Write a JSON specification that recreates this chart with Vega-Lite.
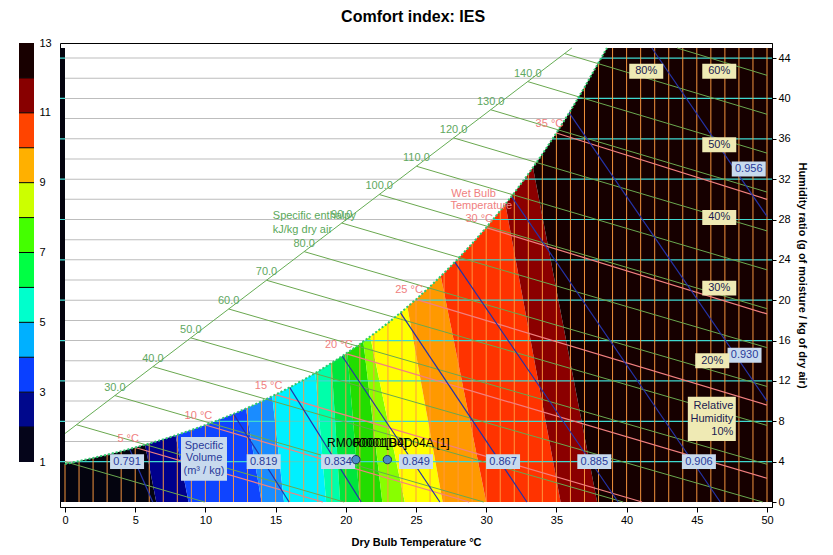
{
  "$schema": "https://vega.github.io/schema/vega-lite/v6.json",
  "background": "white",
  "padding": {"left": 18, "top": 9, "right": 4, "bottom": 2},
  "title": {"text": "Comfort index: IES", "font": "Liberation Sans", "fontSize": 16, "fontWeight": "bold", "color": "#000", "anchor": "middle", "offset": 12},
  "config": {
    "font": "Liberation Sans",
    "axis": {"labelFont": "Liberation Sans", "labelFontSize": 11, "labelColor": "#000", "titleFont": "Liberation Sans", "titleFontSize": 11, "titleFontWeight": "bold", "titleColor": "#000", "grid": false, "domainColor": "#000", "tickColor": "#000"},
    "view": {"stroke": "#000"}
  },
  "bounds": "flush",
  "spacing": 26,
  "resolve": {"scale": {"color": "independent"}},
  "datasets": {
    "legendbands": [
      {"lo": 1, "hi": 2, "c": "c01"}, {"lo": 2, "hi": 3, "c": "c02"}, {"lo": 3, "hi": 4, "c": "c03"},
      {"lo": 4, "hi": 5, "c": "c04"}, {"lo": 5, "hi": 6, "c": "c05"}, {"lo": 6, "hi": 7, "c": "c06"},
      {"lo": 7, "hi": 8, "c": "c07"}, {"lo": 8, "hi": 9, "c": "c08"}, {"lo": 9, "hi": 10, "c": "c09"},
      {"lo": 10, "hi": 11, "c": "c10"}, {"lo": 11, "hi": 12, "c": "c11"}, {"lo": 12, "hi": 13, "c": "c12"}
    ],
    "comfortbands": [
      {"band": "b01", "w": 0, "xl": -30, "xr": 6.5}, {"band": "b01", "w": 45, "xl": -30, "xr": 0.2},
      {"band": "b02", "w": 0, "xl": 6.5, "xr": 8.8}, {"band": "b02", "w": 45, "xl": 0.2, "xr": 2.5},
      {"band": "b03", "w": 0, "xl": 8.8, "xr": 14.0}, {"band": "b03", "w": 45, "xl": 2.5, "xr": 8.6},
      {"band": "b04", "w": 0, "xl": 14.0, "xr": 15.6}, {"band": "b04", "w": 45, "xl": 8.6, "xr": 12.0},
      {"band": "b05", "w": 0, "xl": 15.6, "xr": 18.6}, {"band": "b05", "w": 45, "xl": 12.0, "xr": 15.9},
      {"band": "b06", "w": 0, "xl": 18.6, "xr": 19.6}, {"band": "b06", "w": 45, "xl": 15.9, "xr": 17.58},
      {"band": "b07", "w": 0, "xl": 19.6, "xr": 21.0}, {"band": "b07", "w": 45, "xl": 17.58, "xr": 18.3},
      {"band": "b08", "w": 0, "xl": 21.0, "xr": 22.6}, {"band": "b08", "w": 45, "xl": 18.3, "xr": 18.78},
      {"band": "b09", "w": 0, "xl": 22.6, "xr": 24.2}, {"band": "b09", "w": 45, "xl": 18.78, "xr": 17.45},
      {"band": "b10", "w": 0, "xl": 24.2, "xr": 26.9}, {"band": "b10", "w": 45, "xl": 17.45, "xr": 21.05},
      {"band": "b11", "w": 0, "xl": 26.9, "xr": 30.0}, {"band": "b11", "w": 45, "xl": 21.05, "xr": 23.5},
      {"band": "b12", "w": 0, "xl": 30.0, "xr": 35.3}, {"band": "b12", "w": 45, "xl": 23.5, "xr": 29.3},
      {"band": "b13", "w": 0, "xl": 35.3, "xr": 37.9}, {"band": "b13", "w": 45, "xl": 29.3, "xr": 31.7},
      {"band": "b14", "w": 0, "xl": 37.9, "xr": 60}, {"band": "b14", "w": 45, "xl": 31.7, "xr": 60}
    ],
    "satcurve": [
      {"T": 0, "w": 3.77}, {"T": 1, "w": 4.06}, {"T": 2, "w": 4.36}, {"T": 3, "w": 4.69}, {"T": 4, "w": 5.03},
      {"T": 5, "w": 5.40}, {"T": 6, "w": 5.79}, {"T": 7, "w": 6.21}, {"T": 8, "w": 6.66}, {"T": 9, "w": 7.13},
      {"T": 10, "w": 7.63}, {"T": 11, "w": 8.17}, {"T": 12, "w": 8.73}, {"T": 13, "w": 9.33}, {"T": 14, "w": 9.97},
      {"T": 15, "w": 10.65}, {"T": 16, "w": 11.36}, {"T": 17, "w": 12.12}, {"T": 18, "w": 12.93}, {"T": 19, "w": 13.79},
      {"T": 20, "w": 14.70}, {"T": 21, "w": 15.66}, {"T": 22, "w": 16.67}, {"T": 23, "w": 17.74}, {"T": 24, "w": 18.88},
      {"T": 25, "w": 20.08}, {"T": 26, "w": 21.35}, {"T": 27, "w": 22.70}, {"T": 28, "w": 24.12}, {"T": 29, "w": 25.62},
      {"T": 30, "w": 27.20}, {"T": 31, "w": 28.87}, {"T": 32, "w": 30.65}, {"T": 33, "w": 32.52}, {"T": 34, "w": 34.49},
      {"T": 35, "w": 36.58}, {"T": 36, "w": 38.78}, {"T": 37, "w": 41.10}, {"T": 38, "w": 43.56}, {"T": 38.6, "w": 45},
      {"T": 39, "w": 45}, {"T": 40, "w": 45}, {"T": 41, "w": 45}, {"T": 42, "w": 45}, {"T": 43, "w": 45},
      {"T": 44, "w": 45}, {"T": 45, "w": 45}, {"T": 46, "w": 45}, {"T": 47, "w": 45}, {"T": 48, "w": 45},
      {"T": 49, "w": 45}, {"T": 50, "w": 45}
    ],
    "hgrid": [
      {"w": 4, "tsat": 0.79}, {"w": 6, "tsat": 6.49}, {"w": 8, "tsat": 10.5}, {"w": 10, "tsat": 14.05},
      {"w": 12, "tsat": 16.83}, {"w": 14, "tsat": 19.2}, {"w": 16, "tsat": 21.35}, {"w": 18, "tsat": 23.2},
      {"w": 20, "tsat": 24.93}, {"w": 22, "tsat": 26.5}, {"w": 24, "tsat": 27.9}, {"w": 26, "tsat": 29.25},
      {"w": 28, "tsat": 30.5}, {"w": 30, "tsat": 31.63}, {"w": 32, "tsat": 32.7}, {"w": 34, "tsat": 33.75},
      {"w": 36, "tsat": 34.7}, {"w": 38, "tsat": 35.65}, {"w": 40, "tsat": 36.53}, {"w": 42, "tsat": 37.35},
      {"w": 44, "tsat": 38.17}
    ],
    "hscale": [{"x1": 0, "y1": 6.79, "x2": 36.1, "y2": 45}],
    "enthalpy": [
      {"h": 10, "x1": 0, "y1": 4.0, "x2": 9.94, "y2": 0},
      {"h": 20, "x1": 0.82, "y1": 7.66, "x2": 19.88, "y2": 0},
      {"h": 30, "x1": 3.55, "y1": 10.55, "x2": 29.82, "y2": 0},
      {"h": 40, "x1": 6.26, "y1": 13.42, "x2": 39.76, "y2": 0},
      {"h": 50, "x1": 8.96, "y1": 16.27, "x2": 49.7, "y2": 0},
      {"h": 60, "x1": 11.66, "y1": 19.13, "x2": 50, "y2": 3.74},
      {"h": 70, "x1": 14.35, "y1": 21.98, "x2": 50, "y2": 7.59},
      {"h": 80, "x1": 17.03, "y1": 24.82, "x2": 50, "y2": 11.45},
      {"h": 90, "x1": 19.71, "y1": 27.65, "x2": 50, "y2": 15.3},
      {"h": 100, "x1": 22.38, "y1": 30.48, "x2": 50, "y2": 19.16},
      {"h": 110, "x1": 25.03, "y1": 33.28, "x2": 50, "y2": 23.01},
      {"h": 120, "x1": 27.68, "y1": 36.09, "x2": 50, "y2": 26.87},
      {"h": 130, "x1": 30.32, "y1": 38.88, "x2": 50, "y2": 30.72},
      {"h": 140, "x1": 32.96, "y1": 41.67, "x2": 50, "y2": 34.58},
      {"h": 150, "x1": 35.58, "y1": 44.45, "x2": 50, "y2": 38.43},
      {"h": 160, "x1": 43.6, "y1": 45, "x2": 50, "y2": 42.29}
    ],
    "wetbulb": [
      {"twb": 5, "lbl": "5 °C", "x1": 5, "y1": 5.40, "x2": 18.36, "y2": 0},
      {"twb": 10, "lbl": "10 °C", "x1": 10, "y1": 7.63, "x2": 28.79, "y2": 0},
      {"twb": 15, "lbl": "15 °C", "x1": 15, "y1": 10.65, "x2": 41.1, "y2": 0},
      {"twb": 20, "lbl": "20 °C", "x1": 20, "y1": 14.70, "x2": 50, "y2": 2.35},
      {"twb": 25, "lbl": "25 °C", "x1": 25, "y1": 20.08, "x2": 50, "y2": 9.6},
      {"twb": 30, "lbl": "30 °C", "x1": 30, "y1": 27.20, "x2": 50, "y2": 18.64},
      {"twb": 35, "lbl": "35 °C", "x1": 35, "y1": 36.58, "x2": 50, "y2": 30.0}
    ],
    "volume": [
      {"v": "0.791", "x1": 4.6, "y1": 5.25, "x2": 6.25, "y2": 0, "lx": 4.42, "ly": 4.0},
      {"v": "0.819", "x1": 12.0, "y1": 8.73, "x2": 15.96, "y2": 0, "lx": 14.15, "ly": 4.0},
      {"v": "0.834", "x1": 16.0, "y1": 11.36, "x2": 21.1, "y2": 0, "lx": 19.45, "ly": 4.0},
      {"v": "0.849", "x1": 19.75, "y1": 14.45, "x2": 26.7, "y2": 0, "lx": 25.0, "ly": 4.0},
      {"v": "0.867", "x1": 23.9, "y1": 18.75, "x2": 32.9, "y2": 0, "lx": 31.2, "ly": 4.0},
      {"v": "0.885", "x1": 27.75, "y1": 23.8, "x2": 39.4, "y2": 0, "lx": 37.7, "ly": 4.0},
      {"v": "0.906", "x1": 31.8, "y1": 30.3, "x2": 46.67, "y2": 0, "lx": 45.15, "ly": 4.0},
      {"v": "0.930", "x1": 35.9, "y1": 38.6, "x2": 50, "y2": 10.0, "lx": 48.4, "ly": 14.55},
      {"v": "0.956", "x1": 41.8, "y1": 45, "x2": 50, "y2": 28.3, "lx": 48.7, "ly": 33.0}
    ],
    "rhlabels": [
      {"lbl": "80%", "x": 41.4, "y": 42.7}, {"lbl": "60%", "x": 46.6, "y": 42.7},
      {"lbl": "50%", "x": 46.6, "y": 35.4}, {"lbl": "40%", "x": 46.6, "y": 28.2},
      {"lbl": "30%", "x": 46.6, "y": 21.2}, {"lbl": "20%", "x": 46.1, "y": 14.0}
    ],
    "rooms": [
      {"id": "RM000001[B4]", "T": 20.72, "w": 4.2},
      {"id": "RM0001D004A [1]", "T": 22.96, "w": 4.2}
    ]
  },
  "hconcat": [
    {
      "width": 15,
      "height": 419,
      "view": {"stroke": null},
      "data": {"name": "legendbands"},
      "layer": [
        {
          "mark": {"type": "rect"},
          "encoding": {
            "y": {"field": "lo", "type": "quantitative", "scale": {"domain": [1, 13], "nice": false, "zero": false},
              "axis": {"orient": "right", "values": [1, 2, 3, 4, 5, 6, 7, 8, 9, 10, 11, 12, 13], "ticks": false, "domain": false, "labelPadding": 5, "title": null}},
            "y2": {"field": "hi"},
            "color": {"field": "c", "type": "nominal", "legend": null,
              "scale": {"domain": ["c01", "c02", "c03", "c04", "c05", "c06", "c07", "c08", "c09", "c10", "c11", "c12"],
                "range": ["#05051a", "#00088c", "#0a40ff", "#00b0ff", "#00ffcc", "#00ff44", "#44ff00", "#ccff00", "#ffb000", "#ff4400", "#880000", "#180000"]}}
          }
        },
        {
          "transform": [{"filter": "datum.lo > 1"}],
          "mark": {"type": "rule", "color": "#000", "strokeWidth": 1},
          "encoding": {"y": {"field": "lo", "type": "quantitative"}}
        }
      ]
    },
    {
      "width": 712,
      "height": 464,
      "layer": [
        {
          "data": {"name": "comfortbands"},
          "mark": {"type": "area", "orient": "horizontal", "clip": true},
          "encoding": {
            "y": {"field": "w", "type": "quantitative", "scale": {"domain": [0, 45], "nice": false, "zero": false},
              "axis": {"orient": "right", "values": [0, 2, 4, 6, 8, 10, 12, 14, 16, 18, 20, 22, 24, 26, 28, 30, 32, 34, 36, 38, 40, 42, 44], "tickSize": 4, "labelPadding": 2, "title": "Humidity ratio (g of moisture / kg of dry air)", "titlePadding": 6}},
            "x": {"field": "xl", "type": "quantitative", "scale": {"domain": [0, 50], "nice": false, "zero": false},
              "axis": {"values": [0, 5, 10, 15, 20, 25, 30, 35, 40, 45, 50], "tickSize": 5, "labelPadding": 2, "title": "Dry Bulb Temperature °C", "titlePadding": 11}},
            "x2": {"field": "xr"},
            "color": {"field": "band", "type": "nominal", "legend": null,
              "scale": {"domain": ["b01", "b02", "b03", "b04", "b05", "b06", "b07", "b08", "b09", "b10", "b11", "b12", "b13", "b14"],
                "range": ["#04040f", "#00008c", "#0f44ff", "#1a8cff", "#00f0ff", "#00ffaa", "#00e63c", "#22dd00", "#88ff00", "#ffff00", "#ff9900", "#ff3300", "#8b0000", "#160000"]}}
          }
        },
        {
          "data": {"name": "hgrid"},
          "transform": [{"filter": "datum.w % 4 == 0"}],
          "mark": {"type": "rule", "color": "#3fd8d0", "strokeWidth": 1.2},
          "encoding": {
            "y": {"field": "w", "type": "quantitative"}
          }
        },
        {
          "data": {"name": "satcurve"},
          "transform": [{"filter": "datum.T % 1 == 0"}],
          "mark": {"type": "bar", "orient": "vertical", "size": 1, "color": "#ff9a40", "opacity": 0.95},
          "encoding": {
            "x": {"field": "T", "type": "quantitative"},
            "y": {"field": "w", "type": "quantitative"}
          }
        },
        {
          "data": {"name": "satcurve"},
          "transform": [{"filter": "datum.T <= 38.6"}],
          "mark": {"type": "area", "orient": "horizontal", "color": "white", "clip": true},
          "encoding": {
            "y": {"field": "w", "type": "quantitative"},
            "x": {"field": "T", "type": "quantitative"}
          }
        },
        {
          "data": {"name": "hgrid"},
          "mark": {"type": "bar", "orient": "horizontal", "size": 1, "color": "#bdbdbd"},
          "encoding": {
            "y": {"field": "w", "type": "quantitative"},
            "x": {"field": "tsat", "type": "quantitative"}
          }
        },
        {
          "data": {"name": "enthalpy"},
          "mark": {"type": "rule", "color": "#6aa84f", "strokeWidth": 1, "clip": true},
          "encoding": {
            "x": {"field": "x1", "type": "quantitative"},
            "y": {"field": "y1", "type": "quantitative"},
            "x2": {"field": "x2"},
            "y2": {"field": "y2"}
          }
        },
        {
          "data": {"name": "hscale"},
          "mark": {"type": "rule", "color": "#66ad55", "strokeWidth": 1, "clip": true},
          "encoding": {
            "x": {"field": "x1", "type": "quantitative"},
            "y": {"field": "y1", "type": "quantitative"},
            "x2": {"field": "x2"},
            "y2": {"field": "y2"}
          }
        },
        {
          "data": {"name": "wetbulb"},
          "mark": {"type": "rule", "color": "#f28080", "strokeWidth": 1.2, "clip": true},
          "encoding": {
            "x": {"field": "x1", "type": "quantitative"},
            "y": {"field": "y1", "type": "quantitative"},
            "x2": {"field": "x2"},
            "y2": {"field": "y2"}
          }
        },
        {
          "data": {"name": "volume"},
          "mark": {"type": "rule", "color": "#2433a8", "strokeWidth": 1.2, "clip": true},
          "encoding": {
            "x": {"field": "x1", "type": "quantitative"},
            "y": {"field": "y1", "type": "quantitative"},
            "x2": {"field": "x2"},
            "y2": {"field": "y2"}
          }
        },
        {
          "data": {"name": "satcurve"},
          "transform": [{"filter": "datum.T <= 38.6"}],
          "mark": {"type": "line", "color": "#2fc86e", "strokeWidth": 2, "strokeDash": [2, 2], "clip": true},
          "encoding": {
            "x": {"field": "T", "type": "quantitative"},
            "y": {"field": "w", "type": "quantitative"}
          }
        },
        {
          "data": {"name": "enthalpy"},
          "transform": [{"filter": "datum.h >= 30 && datum.h <= 140"}],
          "mark": {"type": "text", "color": "#5fa85f", "fontSize": 11, "dy": -8, "align": "center"},
          "encoding": {
            "x": {"field": "x1", "type": "quantitative"},
            "y": {"field": "y1", "type": "quantitative"},
            "text": {"field": "h", "type": "quantitative", "format": ".1f"}
          }
        },
        {
          "data": {"values": [{"t": "Specific enthalpy", "x": 14.8, "y": 28.3}, {"t": "kJ/kg dry air", "x": 14.8, "y": 27.0}]},
          "mark": {"type": "text", "color": "#5aa85a", "fontSize": 11, "align": "left"},
          "encoding": {
            "x": {"field": "x", "type": "quantitative"},
            "y": {"field": "y", "type": "quantitative"},
            "text": {"field": "t", "type": "nominal"}
          }
        },
        {
          "data": {"name": "wetbulb"},
          "mark": {"type": "text", "color": "#f08080", "fontSize": 11, "dx": -7, "dy": -9, "align": "center"},
          "encoding": {
            "x": {"field": "x1", "type": "quantitative"},
            "y": {"field": "y1", "type": "quantitative"},
            "text": {"field": "lbl", "type": "nominal"}
          }
        },
        {
          "data": {"values": [{"t": "Wet Bulb", "x": 29.1, "y": 30.55}, {"t": "Temperature", "x": 29.65, "y": 29.3}]},
          "mark": {"type": "text", "color": "#f08080", "fontSize": 11, "align": "center"},
          "encoding": {
            "x": {"field": "x", "type": "quantitative"},
            "y": {"field": "y", "type": "quantitative"},
            "text": {"field": "t", "type": "nominal"}
          }
        },
        {
          "data": {"name": "volume"},
          "mark": {"type": "point", "shape": "M-1,-0.44H1V0.44H-1Z", "size": 1156, "filled": true, "color": "#c8daee", "opacity": 1},
          "encoding": {
            "x": {"field": "lx", "type": "quantitative"},
            "y": {"field": "ly", "type": "quantitative"}
          }
        },
        {
          "data": {"name": "volume"},
          "mark": {"type": "text", "color": "#2a3a9a", "fontSize": 11, "align": "center"},
          "encoding": {
            "x": {"field": "lx", "type": "quantitative"},
            "y": {"field": "ly", "type": "quantitative"},
            "text": {"field": "v", "type": "nominal"}
          }
        },
        {
          "data": {"values": [{"x": 9.9, "y": 4.27}]},
          "mark": {"type": "point", "shape": "M-1,-0.95H1V0.95H-1Z", "size": 2116, "filled": true, "color": "#c8daee", "opacity": 1},
          "encoding": {
            "x": {"field": "x", "type": "quantitative"},
            "y": {"field": "y", "type": "quantitative"}
          }
        },
        {
          "data": {"values": [{"t": "Specific", "x": 9.9, "y": 5.55}, {"t": "Volume", "x": 9.9, "y": 4.35}, {"t": "(m³ / kg)", "x": 9.9, "y": 3.05}]},
          "mark": {"type": "text", "color": "#2a3a9a", "fontSize": 11, "align": "center"},
          "encoding": {
            "x": {"field": "x", "type": "quantitative"},
            "y": {"field": "y", "type": "quantitative"},
            "text": {"field": "t", "type": "nominal"}
          }
        },
        {
          "data": {"name": "rhlabels"},
          "mark": {"type": "point", "shape": "M-1,-0.44H1V0.44H-1Z", "size": 1156, "filled": true, "color": "#efeab4", "opacity": 1},
          "encoding": {
            "x": {"field": "x", "type": "quantitative"},
            "y": {"field": "y", "type": "quantitative"}
          }
        },
        {
          "data": {"name": "rhlabels"},
          "mark": {"type": "text", "color": "#1a1a50", "fontSize": 11, "align": "center"},
          "encoding": {
            "x": {"field": "x", "type": "quantitative"},
            "y": {"field": "y", "type": "quantitative"},
            "text": {"field": "lbl", "type": "nominal"}
          }
        },
        {
          "data": {"values": [{"x": 46.07, "y": 8.24}]},
          "mark": {"type": "point", "shape": "M-1,-0.92H1V0.92H-1Z", "size": 2304, "filled": true, "color": "#efeab4", "opacity": 1},
          "encoding": {
            "x": {"field": "x", "type": "quantitative"},
            "y": {"field": "y", "type": "quantitative"}
          }
        },
        {
          "data": {"values": [{"t": "Relative", "x": 47.6, "y": 9.5}, {"t": "Humidity", "x": 47.6, "y": 8.25}, {"t": "10%", "x": 47.6, "y": 6.98}]},
          "mark": {"type": "text", "color": "#1a1a50", "fontSize": 11, "align": "right"},
          "encoding": {
            "x": {"field": "x", "type": "quantitative"},
            "y": {"field": "y", "type": "quantitative"},
            "text": {"field": "t", "type": "nominal"}
          }
        },
        {
          "data": {"name": "rooms"},
          "mark": {"type": "point", "shape": "circle", "size": 70, "filled": true, "color": "#4a8cc8", "stroke": "#1d3560", "strokeWidth": 1, "opacity": 1},
          "encoding": {
            "x": {"field": "T", "type": "quantitative"},
            "y": {"field": "w", "type": "quantitative"}
          }
        },
        {
          "data": {"values": [{"t": "RM000001[B4]", "x": 18.66, "y": 5.8}]},
          "mark": {"type": "text", "color": "#000", "fontSize": 12, "align": "left"},
          "encoding": {
            "x": {"field": "x", "type": "quantitative"},
            "y": {"field": "y", "type": "quantitative"},
            "text": {"field": "t", "type": "nominal"}
          }
        },
        {
          "data": {"values": [{"t": "R0001D0D04A [1]", "x": 27.4, "y": 5.8}]},
          "mark": {"type": "text", "color": "#000", "fontSize": 12, "align": "right"},
          "encoding": {
            "x": {"field": "x", "type": "quantitative"},
            "y": {"field": "y", "type": "quantitative"},
            "text": {"field": "t", "type": "nominal"}
          }
        }
      ]
    }
  ]
}
